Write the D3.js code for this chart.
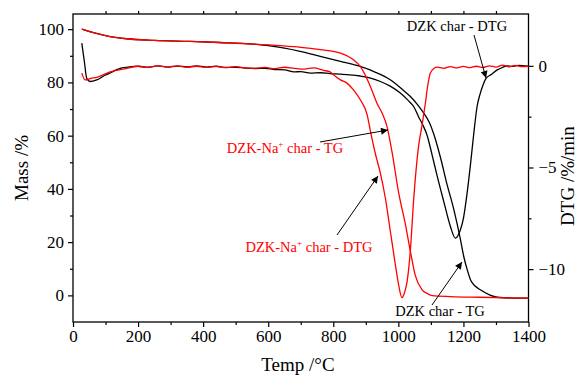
<!DOCTYPE html>
<html>
<head>
<meta charset="utf-8">
<script src="https://cdn.jsdelivr.net/npm/d3@7"></script>
<style>
  body { margin: 0; background: #fff; }
</style>
</head>
<body>
<div id="chart"></div>
<script>
// [temp °C, value] pairs
const dzkTG = [[27,100],[60,98.8],[100,97.6],[165,96.4],[250,95.8],[360,95.4],[450,95.0],[554,94.4],[600,93.8],[650,92.9],[698,91.7],[760,89.8],[822,87.9],[883,86],[930,83.8],[975,81],[1010,77.6],[1037,74.7],[1060,71.5],[1078,68.5],[1095,65],[1109,60.5],[1130,51.5],[1150,41.5],[1170,32.5],[1190,21.5],[1201,14.6],[1212,9.5],[1222,5.8],[1236,3.5],[1252,2.1],[1280,0.2],[1304,-0.7],[1350,-1.0],[1400,-1.05]];
const naTG = [[27,100],[60,98.8],[100,97.6],[165,96.4],[250,95.8],[360,95.4],[450,95.0],[554,94.4],[637,93.8],[700,93.2],[760,92.3],[822,91],[862,88.5],[883,86],[914,78.5],[935,72],[950,68.5],[965,63.5],[981,53.5],[1001,38.5],[1022,26.5],[1037,16.5],[1052,7.5],[1073,2.1],[1090,0.6],[1104,-0.1],[1160,-0.45],[1250,-0.7],[1400,-1.05]];
const dzkDTG = [[27,1.12],[35,0.2],[42,-0.6],[52,-0.77],[73,-0.69],[100,-0.45],[116,-0.34],[133,-0.2],[150,-0.1],[175,-0.05],[200,-0.02],[230,-0.07],[260,0.0],[290,-0.06],[320,-0.01],[350,-0.05],[380,0.0],[410,-0.06],[440,-0.02],[470,-0.08],[500,-0.07],[530,-0.11],[560,-0.13],[590,-0.12],[620,-0.18],[650,-0.2],[680,-0.3],[700,-0.28],[730,-0.36],[760,-0.34],[790,-0.38],[822,-0.41],[850,-0.44],[883,-0.5],[915,-0.6],[945,-0.77],[975,-1.0],[1006,-1.34],[1030,-1.7],[1047,-2.0],[1062,-2.5],[1075,-2.9],[1088,-3.4],[1104,-4.4],[1119,-5.4],[1140,-6.7],[1160,-7.9],[1175,-8.47],[1190,-8.1],[1200,-7.5],[1211,-6.3],[1222,-4.8],[1232,-3.3],[1242,-2.0],[1252,-1.34],[1260,-0.95],[1268,-0.65],[1288,-0.4],[1304,-0.2],[1320,-0.08],[1334,0.0],[1350,-0.03],[1370,0.02],[1400,-0.02]];
const naDTG = [[27,-0.36],[37,-0.69],[55,-0.62],[75,-0.55],[114,-0.3],[165,-0.13],[200,-0.02],[230,-0.08],[260,0.0],[290,-0.06],[320,0.0],[350,-0.07],[380,-0.02],[410,-0.08],[440,-0.03],[470,-0.09],[500,-0.04],[530,-0.1],[560,-0.12],[590,-0.08],[620,-0.14],[650,-0.07],[680,-0.12],[710,-0.16],[740,-0.1],[770,-0.22],[790,-0.3],[801,-0.44],[822,-0.69],[842,-0.85],[862,-1.18],[883,-1.67],[904,-2.4],[914,-3.2],[929,-4.3],[945,-5.3],[960,-6.5],[975,-8.1],[991,-9.8],[1000,-10.7],[1011,-11.4],[1020,-11.1],[1027,-10.6],[1037,-9.05],[1047,-6.6],[1061,-4.1],[1073,-2.9],[1083,-1.84],[1090,-1.0],[1098,-0.36],[1110,-0.12],[1119,-0.06],[1140,-0.12],[1160,-0.04],[1180,-0.1],[1200,-0.03],[1220,-0.09],[1240,-0.02],[1260,-0.08],[1280,0.0],[1300,-0.06],[1320,0.04],[1340,-0.05],[1360,0.02],[1380,-0.04],[1400,-0.02]];

const xTicks = [0, 200, 400, 600, 800, 1000, 1200, 1400];
const massTicks = [0, 20, 40, 60, 80, 100];
const dtgTicks = [0, -5, -10];

const W = 577, H = 376;
const L = 73, R = 528.5, T = 14, B = 322;
const FONT = '"Liberation Serif", "Times New Roman", Times, serif';

const svg = d3.select('#chart').append('svg').attr('width', W).attr('height', H)
  .attr('font-family', FONT);

const x = d3.scaleLinear().domain([0, 1400]).range([L, R]);
const yM = d3.scaleLinear().domain([-10, 105.7]).range([B, T]);
const yD = d3.scaleLinear().domain([-12.6, 2.55]).range([B, T]);

// frame
svg.append('rect').attr('x', L).attr('y', T).attr('width', R - L).attr('height', B - T)
  .attr('fill', 'none').attr('stroke', '#000').attr('stroke-width', 1.3);

const styleAxis = (g) => {
  g.attr('font-family', FONT);
  g.select('.domain').remove();
  g.selectAll('.tick line').attr('stroke', '#000').attr('stroke-width', 1.2);
  g.selectAll('.tick text').attr('font-size', 17).attr('fill', '#000').attr('font-family', FONT);
};
const fmt = d3.format('d');

// bottom axis
svg.append('g').attr('transform', `translate(0,${B})`)
  .call(d3.axisBottom(x).tickValues(xTicks).tickSize(5).tickPadding(3).tickFormat(fmt))
  .call(styleAxis);
svg.append('g').attr('transform', `translate(0,${B})`)
  .call(d3.axisBottom(x).tickValues(d3.range(100, 1400, 200)).tickSize(3).tickFormat(''))
  .call(styleAxis);
// top axis
svg.append('g').attr('transform', `translate(0,${T})`)
  .call(d3.axisTop(x).tickValues(d3.range(100, 1400, 100)).tickSize(3).tickFormat(''))
  .call(styleAxis);

// left axis
svg.append('g').attr('transform', `translate(${L},0)`)
  .call(d3.axisLeft(yM).tickValues(massTicks).tickSize(5).tickPadding(4).tickFormat(fmt))
  .call(styleAxis);
svg.append('g').attr('transform', `translate(${L},0)`)
  .call(d3.axisLeft(yM).tickValues([10, 30, 50, 70, 90]).tickSize(3).tickFormat(''))
  .call(styleAxis);

// right axis
svg.append('g').attr('transform', `translate(${R},0)`)
  .call(d3.axisRight(yD).tickValues(dtgTicks).tickSize(5).tickPadding(5).tickFormat(fmt))
  .call(styleAxis);
svg.append('g').attr('transform', `translate(${R},0)`)
  .call(d3.axisRight(yD).tickValues([-2.5, -7.5]).tickSize(3).tickFormat(''))
  .call(styleAxis);

// axis titles
svg.append('text').attr('transform', `translate(28,${(T + B) / 2}) rotate(-90)`)
  .attr('text-anchor', 'middle').attr('font-size', 19).text('Mass /%');
svg.append('text').attr('transform', `translate(574,${(T + B) / 2 + 8}) rotate(-90)`)
  .attr('text-anchor', 'middle').attr('font-size', 19).text('DTG /%/min');
svg.append('text').attr('x', 298).attr('y', 371)
  .attr('text-anchor', 'middle').attr('font-size', 19).text('Temp /°C');

// curves
const lineM = d3.line().x(d => x(d[0])).y(d => yM(d[1])).curve(d3.curveMonotoneX);
const lineD = d3.line().x(d => x(d[0])).y(d => yD(d[1])).curve(d3.curveMonotoneX);

const plot = svg.append('g');
const series = [
  { data: dzkTG, line: lineM, color: '#000' },
  { data: dzkDTG, line: lineD, color: '#000' },
  { data: naTG, line: lineM, color: '#ff0000' },
  { data: naDTG, line: lineD, color: '#ff0000' },
];
plot.selectAll('path.s').data(series).enter().append('path')
  .attr('class', 's')
  .attr('d', d => d.line(d.data))
  .attr('fill', 'none')
  .attr('stroke', d => d.color)
  .attr('stroke-width', 1.3);

// arrows + annotations
svg.append('defs').append('marker')
  .attr('id', 'arr').attr('viewBox', '0 0 10 10').attr('refX', 10).attr('refY', 5)
  .attr('markerWidth', 9).attr('markerHeight', 7).attr('orient', 'auto')
  .attr('markerUnits', 'userSpaceOnUse')
  .append('path').attr('d', 'M0,0 L10,5 L0,10 z').attr('fill', '#000');

const notes = [
  { label: 'DZK char - DTG', sup: null, tx: 457, ty: 31, color: '#000', from: [474, 35], to: [486, 78] },
  { label: 'DZK char - TG', sup: null, tx: 440, ty: 316, color: '#000', from: [432, 305], to: [462, 262] },
  { label: ['DZK-Na', ' char - TG'], sup: '+', tx: 285, ty: 153, color: '#ff0000', from: [320, 142], to: [388, 130] },
  { label: ['DZK-Na', ' char - DTG'], sup: '+', tx: 309, ty: 252, color: '#ff0000', from: [337, 235], to: [378, 176] },
];

notes.forEach(n => {
  svg.append('line')
    .attr('x1', n.from[0]).attr('y1', n.from[1]).attr('x2', n.to[0]).attr('y2', n.to[1])
    .attr('stroke', '#000').attr('stroke-width', 1).attr('marker-end', 'url(#arr)');
  const t = svg.append('text').attr('x', n.tx).attr('y', n.ty)
    .attr('text-anchor', 'middle').attr('font-size', 14.5).attr('fill', n.color);
  if (n.sup) {
    t.append('tspan').text(n.label[0]);
    t.append('tspan').attr('font-size', 9).attr('dy', -6).text(n.sup);
    t.append('tspan').attr('dy', 6).text(n.label[1]);
  } else {
    t.text(n.label);
  }
});
</script>
</body>
</html>
